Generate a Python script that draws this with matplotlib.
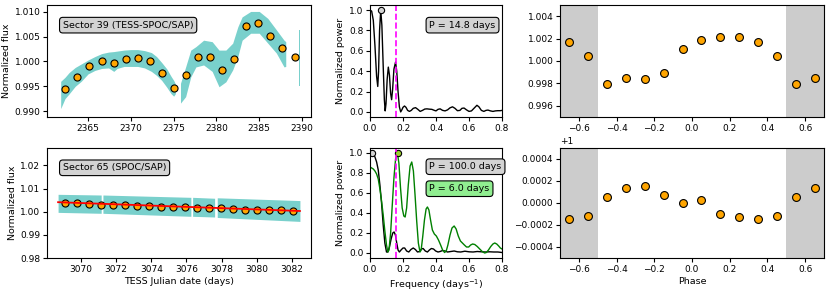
import numpy as np
import matplotlib
matplotlib.use("Agg")
import matplotlib.pyplot as plt

plt.rcParams['font.size'] = 6.8
plt.rcParams['xtick.labelsize'] = 6.5
plt.rcParams['ytick.labelsize'] = 6.5
plt.rcParams['axes.linewidth'] = 0.8
plt.rcParams['xtick.major.size'] = 2.6
plt.rcParams['ytick.major.size'] = 2.6
plt.rcParams['xtick.major.pad'] = 2.2
plt.rcParams['ytick.major.pad'] = 2.2
plt.rcParams['axes.labelpad'] = 2.5

# ---- sector 39 light curve (binned) ----
s39_time = [2362.3, 2363.7, 2365.1, 2366.6, 2368.0, 2369.4, 2370.8, 2372.2, 2373.6, 2375.0,
            2376.4, 2377.9, 2379.3, 2380.7, 2382.1, 2383.5, 2384.9, 2386.3, 2387.7, 2389.2]
s39_flux = [0.99438, 0.99693, 0.99915, 1.00010, 0.99970, 1.00051, 1.00077, 1.00004, 0.99774, 0.99465,
            0.99727, 1.00091, 1.00084, 0.99822, 1.00057, 1.00717, 1.00784, 1.00515, 1.00267, 1.00091]

# envelope of the unbinned cloud, per data segment
s39_cloud_t = [
    [2361.8, 2362.3, 2362.8, 2363.5, 2364.2, 2365.0, 2365.8, 2366.6, 2367.4, 2368.0, 2368.4,
     2369.2, 2370.0, 2370.8, 2371.6, 2372.4, 2373.0, 2373.6, 2374.2, 2374.7, 2375.0, 2375.2],
    [2375.8, 2376.4, 2377.0, 2377.6, 2378.5, 2379.5, 2380.3, 2381.1, 2381.9, 2382.5, 2383.0,
     2384.0, 2385.0, 2386.0, 2387.0, 2387.9, 2388.1],
    [2389.6, 2389.8],
]
s39_cloud_hi = [
    [0.9960, 0.9968, 0.9978, 0.9988, 0.9995, 1.0003, 1.0010, 1.0016, 1.0019, 1.0020, 1.0021,
     1.0023, 1.0024, 1.0024, 1.0022, 1.0018, 1.0010, 0.9998, 0.9985, 0.9970, 0.9962, 0.9955],
    [0.9956, 0.9989, 1.0023, 1.0030, 1.0043, 1.0040, 1.0023, 1.0023, 1.0037, 1.0070, 1.0090,
     1.0101, 1.0101, 1.0087, 1.0064, 1.0043, 1.0040],
    [1.0064, 1.0064],
]
s39_cloud_lo = [
    [0.9905, 0.9925, 0.9935, 0.9950, 0.9960, 0.9975, 0.9982, 0.9986, 0.9987, 0.9980, 0.9986,
     0.9990, 0.9990, 0.9990, 0.9987, 0.9980, 0.9972, 0.9962, 0.9948, 0.9935, 0.9930, 0.9935],
    [0.9916, 0.9929, 0.9969, 0.9989, 0.9993, 0.9980, 0.9949, 0.9959, 0.9983, 1.0010, 1.0043,
     1.0057, 1.0057, 1.0037, 1.0017, 0.9989, 0.9990],
    [0.9950, 0.9950],
]

# ---- sector 65 light curve (binned) ----
s65_time = [3069.09, 3069.77, 3070.45, 3071.14, 3071.82, 3072.50, 3073.18, 3073.86, 3074.55, 3075.23,
            3075.91, 3076.59, 3077.27, 3077.95, 3078.64, 3079.32, 3080.00, 3080.68, 3081.36, 3082.05]
s65_flux = [1.0039, 1.0039, 1.0034, 1.0030, 1.0029, 1.0027, 1.0025, 1.0024, 1.0021, 1.0020,
            1.0019, 1.0018, 1.0017, 1.0014, 1.0011, 1.0009, 1.0007, 1.0007, 1.0006, 1.0004]
s65_cloud_t = [[3068.70, 3071.15], [3071.25, 3076.25], [3076.35, 3077.60], [3077.75, 3082.45]]
s65_cloud_hi = [[1.0075, 1.0072], [1.0072, 1.0062], [1.0062, 1.0058], [1.0060, 1.0048]]
s65_cloud_lo = [[0.9997, 0.9993], [0.9993, 0.9980], [0.9980, 0.9977], [0.9975, 0.9958]]
s65_trend_t = [3068.70, 3082.45]
s65_trend_f = [1.0041, 1.0003]

# ---- periodograms ----
pg39_freq = [0.000, 0.010, 0.020, 0.030, 0.040, 0.047, 0.052, 0.058, 0.065, 0.072, 0.080, 0.087,
             0.092, 0.097, 0.104, 0.111, 0.118, 0.125, 0.131, 0.137, 0.145, 0.155, 0.162, 0.170,
             0.178, 0.186, 0.193, 0.200, 0.209, 0.218, 0.228, 0.239, 0.250, 0.262, 0.276, 0.290,
             0.304, 0.318, 0.332, 0.345, 0.360, 0.375, 0.390, 0.400, 0.412, 0.425, 0.440, 0.455,
             0.470, 0.485, 0.500, 0.515, 0.530, 0.545, 0.557, 0.570, 0.585, 0.600, 0.615, 0.630,
             0.648, 0.660, 0.675, 0.690, 0.703, 0.715, 0.730, 0.745, 0.760, 0.775, 0.790, 0.800]
pg39_power = [1.00, 0.99, 0.90, 0.65, 0.35, 0.25, 0.40, 0.80, 1.00, 0.85, 0.45, 0.12,
              0.01, 0.08, 0.32, 0.44, 0.36, 0.18, 0.12, 0.22, 0.42, 0.49, 0.40, 0.20,
              0.05, 0.00, 0.02, 0.045, 0.058, 0.045, 0.015, 0.005, 0.015, 0.035, 0.042, 0.025,
              0.005, 0.015, 0.028, 0.030, 0.027, 0.025, 0.015, 0.010, 0.025, 0.030, 0.015, 0.010,
              0.020, 0.040, 0.050, 0.035, 0.012, 0.015, 0.035, 0.038, 0.020, 0.005, 0.010, 0.035,
              0.065, 0.050, 0.015, 0.005, 0.015, 0.018, 0.010, 0.005, 0.010, 0.012, 0.012, 0.015]
pg39_peak = (0.0676, 1.0)

pg65_freq = [0.000, 0.010, 0.020, 0.030, 0.040, 0.050, 0.060, 0.070, 0.080, 0.090, 0.100, 0.108,
             0.118, 0.128, 0.138, 0.146, 0.154, 0.162, 0.170, 0.178, 0.188, 0.200, 0.210, 0.222,
             0.235, 0.248, 0.262, 0.275, 0.288, 0.300, 0.312, 0.322, 0.335, 0.348, 0.360, 0.372,
             0.385, 0.398, 0.412, 0.425, 0.440, 0.455, 0.470, 0.490, 0.510, 0.530, 0.550, 0.575,
             0.600, 0.625, 0.650, 0.675, 0.700, 0.725, 0.750, 0.775, 0.800]
pg65_power = [1.00, 1.00, 0.99, 0.96, 0.91, 0.83, 0.68, 0.50, 0.28, 0.10, 0.01, 0.01,
              0.06, 0.14, 0.20, 0.21, 0.18, 0.10, 0.03, 0.01, 0.03, 0.05, 0.05, 0.02,
              0.01, 0.035, 0.05, 0.035, 0.01, 0.015, 0.04, 0.045, 0.02, 0.01, 0.03, 0.045,
              0.04, 0.02, 0.01, 0.015, 0.025, 0.02, 0.01, 0.015, 0.02, 0.012, 0.01, 0.018,
              0.012, 0.01, 0.015, 0.012, 0.01, 0.012, 0.01, 0.01, 0.005]
pg65_peak = (0.01, 1.0)

pg65d_freq = [0.000, 0.010, 0.020, 0.030, 0.040, 0.050, 0.060, 0.070, 0.080, 0.090, 0.100, 0.108,
              0.115, 0.125, 0.135, 0.145, 0.155, 0.166, 0.175, 0.185, 0.195, 0.205, 0.213, 0.222,
              0.232, 0.243, 0.253, 0.263, 0.273, 0.283, 0.293, 0.303, 0.310, 0.320, 0.330, 0.340,
              0.348, 0.357, 0.367, 0.378, 0.390, 0.402, 0.415, 0.428, 0.440, 0.452, 0.462, 0.472,
              0.485, 0.497, 0.510, 0.522, 0.535, 0.548, 0.560, 0.572, 0.585, 0.598, 0.610, 0.622,
              0.635, 0.650, 0.665, 0.680, 0.695, 0.705, 0.718, 0.732, 0.745, 0.756, 0.768, 0.780,
              0.790, 0.800]
pg65d_power = [0.86, 0.85, 0.84, 0.82, 0.79, 0.74, 0.64, 0.52, 0.38, 0.22, 0.08, 0.01,
               0.03, 0.20, 0.48, 0.75, 0.94, 1.00, 0.90, 0.65, 0.45, 0.37, 0.36, 0.45,
               0.68, 0.87, 0.91, 0.82, 0.58, 0.32, 0.10, 0.01, 0.03, 0.17, 0.33, 0.44,
               0.46, 0.43, 0.33, 0.23, 0.19, 0.17, 0.13, 0.08, 0.03, 0.005, 0.02, 0.08,
               0.18, 0.25, 0.27, 0.24, 0.17, 0.12, 0.10, 0.08, 0.06, 0.06, 0.08, 0.09,
               0.085, 0.065, 0.04, 0.015, 0.0, 0.005, 0.03, 0.065, 0.09, 0.10, 0.09, 0.07,
               0.05, 0.04]
pg65d_peak = (1 / 6.0, 1.0)
marker_freq = 0.158

# ---- phase-folded curves (10 bins, wrapped) ----
phase_bins = [-0.45, -0.35, -0.25, -0.15, -0.05, 0.05, 0.15, 0.25, 0.35, 0.45]
fold39 = [0.99797, 0.99845, 0.99842, 0.99893, 1.00107, 1.00191, 1.00218, 1.00218, 1.00167, 1.00042]
fold65 = [1.0000558, 1.00014, 1.000152, 1.000077, 0.9999955, 1.0000317, 0.999899, 0.999872,
          0.999857, 0.999881]

teal = 'lightseagreen'
orange = 'orange'

fig = plt.figure(figsize=(8.30, 2.92), dpi=100)
W, H = 830.0, 292.0


def rect(x0, x1, y0, y1):
    return [x0 / W, 1 - y1 / H, (x1 - x0) / W, (y1 - y0) / H]


ax_lc39 = fig.add_axes(rect(47, 311, 5, 117))
ax_lc65 = fig.add_axes(rect(47, 311, 148, 258))
ax_pg39 = fig.add_axes(rect(370, 502, 5, 117))
ax_pg65 = fig.add_axes(rect(370, 502, 148, 258))
ax_ph39 = fig.add_axes(rect(560, 824, 5, 117))
ax_ph65 = fig.add_axes(rect(560, 824, 148, 258))

box_gray = dict(boxstyle='round,pad=0.35', facecolor='lightgray', edgecolor='black', lw=0.8)
box_green = dict(boxstyle='round,pad=0.35', facecolor='lightgreen', edgecolor='black', lw=0.8)

# light curves
for t, lo, hi in zip(s39_cloud_t, s39_cloud_lo, s39_cloud_hi):
    ax_lc39.fill_between(t, lo, hi, color=teal, alpha=0.6, lw=0)
ax_lc39.scatter(s39_time, s39_flux, s=26, c=orange, edgecolors='black', linewidths=0.8, zorder=3)
ax_lc39.set_xlim(2360.2, 2391.05)
ax_lc39.set_ylim(0.9888, 1.0114)
ax_lc39.set_yticks([0.990, 0.995, 1.000, 1.005, 1.010])
ax_lc39.set_ylabel('Normalized flux')
ax_lc39.text(0.06, 0.82, 'Sector 39 (TESS-SPOC/SAP)', transform=ax_lc39.transAxes,
             va='center', ha='left', bbox=box_gray)

for t, lo, hi in zip(s65_cloud_t, s65_cloud_lo, s65_cloud_hi):
    ax_lc65.fill_between(t, lo, hi, color=teal, alpha=0.6, lw=0)
ax_lc65.scatter(s65_time, s65_flux, s=26, c=orange, edgecolors='black', linewidths=0.8, zorder=3)
ax_lc65.plot(s65_trend_t, s65_trend_f, color='red', lw=1.3, zorder=4)
ax_lc65.set_xlim(3068.07, 3083.08)
ax_lc65.set_ylim(0.98, 1.0275)
ax_lc65.set_xticks([3070, 3072, 3074, 3076, 3078, 3080, 3082])
ax_lc65.set_yticks([0.98, 0.99, 1.00, 1.01, 1.02])
ax_lc65.set_ylabel('Normalized flux')
ax_lc65.set_xlabel('TESS Julian date (days)')
ax_lc65.text(0.06, 0.82, 'Sector 65 (SPOC/SAP)', transform=ax_lc65.transAxes,
             va='center', ha='left', bbox=box_gray)

# periodograms
ax_pg39.plot(pg39_freq, pg39_power, color='black', lw=1.0)
ax_pg39.plot(*pg39_peak, 'o', ms=4.5, mfc='lightgray', mec='black', mew=0.8)
ax_pg39.axvline(marker_freq, color='magenta', ls='--', lw=1.2)
ax_pg39.set_xlim(0, 0.8)
ax_pg39.set_ylim(-0.05, 1.05)
ax_pg39.set_ylabel('Normalized power')
ax_pg39.text(0.45, 0.82, 'P = 14.8 days', transform=ax_pg39.transAxes,
             va='center', ha='left', bbox=box_gray)

ax_pg65.plot(pg65_freq, pg65_power, color='black', lw=1.0)
ax_pg65.plot(pg65d_freq, pg65d_power, color='green', lw=1.0)
ax_pg65.plot(*pg65_peak, 'o', ms=4.5, mfc='lightgray', mec='black', mew=0.8)
ax_pg65.plot(*pg65d_peak, 'o', ms=4.5, mfc='yellowgreen', mec='black', mew=0.8)
ax_pg65.axvline(marker_freq, color='magenta', ls='--', lw=1.2)
ax_pg65.set_xlim(0, 0.8)
ax_pg65.set_ylim(-0.05, 1.05)
ax_pg65.set_ylabel('Normalized power')
ax_pg65.set_xlabel('Frequency (days$^{-1}$)')
ax_pg65.text(0.45, 0.83, 'P = 100.0 days', transform=ax_pg65.transAxes,
             va='center', ha='left', bbox=box_gray)
ax_pg65.text(0.45, 0.63, 'P = 6.0 days', transform=ax_pg65.transAxes,
             va='center', ha='left', bbox=box_green)

# phase folded
for ax, fold, ylim in [(ax_ph39, fold39, (0.995, 1.005)), (ax_ph65, fold65, (0.9995, 1.0005))]:
    ax.axvspan(-0.7, -0.5, color='black', alpha=0.2, lw=0)
    ax.axvspan(0.5, 0.7, color='black', alpha=0.2, lw=0)
    ph = np.array(phase_bins)
    fl = np.array(fold)
    wrap_lo = ph > 0.3
    wrap_hi = ph < -0.3
    ax.scatter(np.concatenate([ph[wrap_lo] - 1, ph, ph[wrap_hi] + 1]),
               np.concatenate([fl[wrap_lo], fl, fl[wrap_hi]]),
               s=32, c=orange, edgecolors='black', linewidths=0.8, zorder=3)
    ax.set_xlim(-0.7, 0.7)
    ax.set_ylim(*ylim)
ax_ph39.set_yticks([0.996, 0.998, 1.000, 1.002, 1.004])
ax_ph65.set_yticks([0.9996, 0.9998, 1.0, 1.0002, 1.0004])
ax_ph65.set_xlabel('Phase')

fig.savefig('out.png', dpi=100)
